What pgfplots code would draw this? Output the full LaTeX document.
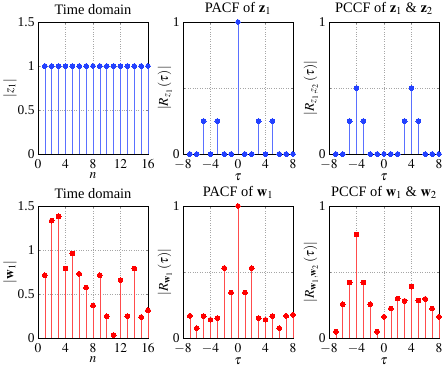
\documentclass[border=0pt]{standalone}
\usepackage{mathptmx}
\usepackage{fontspec}
\setmainfont{Liberation Serif}
\usepackage{pgfplots}
\pgfplotsset{compat=1.18}
\usepackage{amsmath}
\definecolor{zblue}{RGB}{35,65,255}
\definecolor{wred}{RGB}{255,0,0}

\pgfplotsset{
  panel/.style={
    scale only axis, width=110bp, height=132bp, clip=false,
    grid=major, major grid style={gray!70, dotted},
    axis line style={black, line width=0.8pt},
    tick align=inside, major tick length=2bp,
    tick label style={font=\fontsize{13.5}{14}\selectfont},
    xticklabel style={yshift=-1.5bp},
    label style={font=\fontsize{13.5}{14}\selectfont},
    title style={font=\fontsize{14.5}{15}\selectfont, yshift=-2bp},
    xlabel style={yshift=2.5bp},
    ylabel style={yshift=-6bp},
  },
  timeax/.style={panel, xmin=0, xmax=16, ymin=0, ymax=1.5,
    xtick={0,4,8,12,16}, ytick={0,0.5,1,1.5},
    yticklabels={0,0.5,1,1.5}, xlabel={$n$}},
  lagax/.style={panel, xmin=-8, xmax=8, ymin=0, ymax=1,
    xtick={-8,-4,0,4,8}, ytick={0,0.5,1}, yticklabels={0,,1},
    xlabel={$\tau$}},
  stemz/.style={ycomb, zblue!75, line width=0.7pt,
    mark=*, mark size=2.4bp, mark options={zblue, fill=zblue, line width=0pt}},
  stemw/.style={ycomb, wred!70, line width=0.7pt,
    mark=*, mark size=2.4bp, mark options={wred, fill=wred, line width=0pt}},
}

\begin{document}
\begin{tikzpicture}
% top row: z
\begin{axis}[timeax, at={(38bp,-154bp)}, anchor=south west,
  title={Time domain}, ylabel={$|\boldsymbol{z}_1|$}]
\addplot[stemz] coordinates {(1,1)(2,1)(3,1)(4,1)(5,1)(6,1)(7,1)(8,1)
  (9,1)(10,1)(11,1)(12,1)(13,1)(14,1)(15,1)(16,1)};
\end{axis}

\begin{axis}[lagax, at={(183bp,-154bp)}, anchor=south west,
  title={PACF of $\mathbf{z}_1$}, ylabel={$\left|R_{\boldsymbol{z}_1}\,(\tau)\right|$}]
\addplot[stemz] coordinates {(-7,0)(-6,0)(-5,0.25)(-4,0)(-3,0.25)(-2,0)(-1,0)(0,1)
  (1,0)(2,0)(3,0.25)(4,0)(5,0.25)(6,0)(7,0)(8,0)};
\end{axis}

\begin{axis}[lagax, at={(329bp,-154bp)}, anchor=south west,
  title={PCCF of $\mathbf{z}_1$ \& $\mathbf{z}_2$},
  ylabel={$\left|R_{\boldsymbol{z}_1,\boldsymbol{z}_2}\,(\tau)\right|$}]
\addplot[stemz] coordinates {(-7,0)(-6,0)(-5,0.25)(-4,0.5)(-3,0.25)(-2,0)(-1,0)(0,0)
  (1,0)(2,0)(3,0.25)(4,0.5)(5,0.25)(6,0)(7,0)(8,0)};
\end{axis}

% bottom row: w
\begin{axis}[timeax, at={(38bp,-338bp)}, anchor=south west,
  title={Time domain}, ylabel={$|\mathbf{w}_1|$}]
\addplot[stemw] coordinates {(1,0.714)(2,1.334)(3,1.383)(4,0.790)(5,0.960)
  (6,0.729)(7,0.574)(8,0.370)(9,0.714)(10,0.246)(11,0.034)(12,0.657)
  (13,0.249)(14,0.790)(15,0.238)(16,0.317)};
\end{axis}

\begin{axis}[lagax, at={(183bp,-338bp)}, anchor=south west,
  title={PACF of $\mathbf{w}_1$}, ylabel={$\left|R_{\mathbf{w}_1}\,(\tau)\right|$}]
\addplot[stemw] coordinates {(-7,0.168)(-6,0.075)(-5,0.166)(-4,0.138)(-3,0.151)
  (-2,0.530)(-1,0.344)(0,1)(1,0.344)(2,0.530)(3,0.151)(4,0.138)(5,0.166)
  (6,0.075)(7,0.168)(8,0.176)};
\end{axis}

\begin{axis}[lagax, at={(329bp,-338bp)}, anchor=south west,
  title={PCCF of $\mathbf{w}_1$ \& $\mathbf{w}_2$},
  ylabel={$\left|R_{\mathbf{w}_1,\mathbf{w}_2}\,(\tau)\right|$}]
\addplot[stemw] coordinates {(-7,0.048)(-6,0.256)(-5,0.420)(-4,0.784)(-3,0.420)
  (-2,0.256)(-1,0.048)(0,0.161)(1,0.224)(2,0.299)(3,0.281)(4,0.389)(5,0.284)
  (6,0.296)(7,0.224)(8,0.161)};
\end{axis}

\pgfresetboundingbox
\path[use as bounding box] (0,0) rectangle (444bp,-371bp);
\end{tikzpicture}
\end{document}
